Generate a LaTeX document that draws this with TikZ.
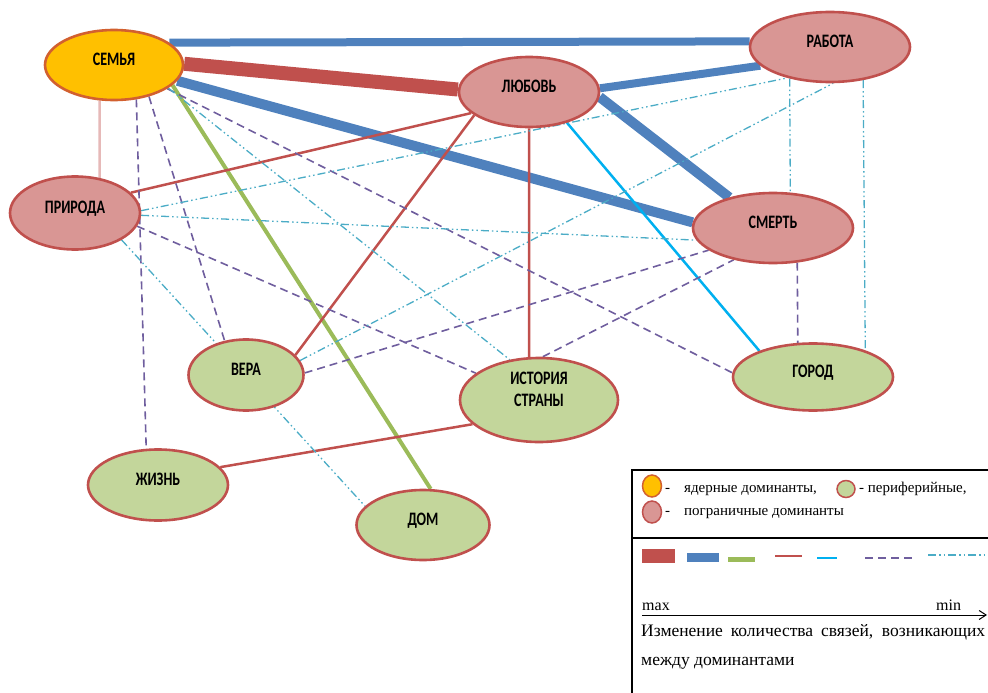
\documentclass[tikz,border=0pt]{standalone}
\usepackage{fontspec}
\setmainfont{Liberation Serif}
\newfontfamily\lblfont[FakeStretch=0.74]{Carlito}
\usetikzlibrary{shapes.geometric,backgrounds,arrows.meta}

\definecolor{edgeRed}{HTML}{C0504D}
\definecolor{coreFill}{HTML}{FFC000}
\definecolor{coreLine}{HTML}{D2602F}
\definecolor{borderFill}{HTML}{D99694}
\definecolor{periFill}{HTML}{C3D69B}
\definecolor{blueLine}{HTML}{4F81BD}
\definecolor{greenLine}{HTML}{9BBB59}
\definecolor{paleLine}{HTML}{E6B9B8}
\definecolor{cyanLine}{HTML}{00B0F0}
\definecolor{purpleLine}{HTML}{6F5E9E}
\definecolor{dashCyan}{HTML}{4BACC6}

\begin{document}
\begin{tikzpicture}
  [x=1pt,y=-1pt,
   baseN/.style={ellipse,line width=2.6pt,draw=edgeRed,inner sep=0pt,
     minimum height=70pt,text depth=12pt,
     font={\fontsize{19}{22}\lblfont\bfseries}},
   coreN/.style={baseN,fill=coreFill,draw=coreLine},
   borderN/.style={baseN,fill=borderFill},
   periN/.style={baseN,fill=periFill},
   redXL/.style={edgeRed,line width=14pt},
   blueL/.style={blueLine,line width=9pt},
   greenL/.style={greenLine,line width=4pt},
   redL/.style={edgeRed,line width=2.5pt},
   paleL/.style={paleLine,line width=2.5pt},
   cyanL/.style={cyanLine,line width=2.5pt},
   purpleD/.style={purpleLine,line width=1.6pt,dash pattern=on 8pt off 5pt},
   cyanD/.style={dashCyan,line width=1.3pt,
     dash pattern=on 8pt off 3pt on 1.5pt off 3pt on 1.5pt off 3pt},
   keyTxt/.style={anchor=base west,inner sep=0pt,font=\fontsize{15}{18}\selectfont},
   noteTxt/.style={anchor=base west,inner sep=0pt,font=\fontsize{17.5}{26}\selectfont}]

  \useasboundingbox (0,0) rectangle (988,693);

  \node[coreN,minimum width=138pt] (semya) at (114,65) {СЕМЬЯ};
  \node[borderN,minimum width=140pt] (lyubov) at (529,92) {ЛЮБОВЬ};
  \node[borderN,minimum width=160pt] (rabota) at (830,47) {РАБОТА};
  \node[borderN,minimum width=130pt,minimum height=73pt] (priroda) at (75,213) {ПРИРОДА};
  \node[borderN,minimum width=160pt] (smert) at (773,228) {СМЕРТЬ};

  \node[periN,minimum width=115pt,minimum height=71pt] (vera) at (246,375) {ВЕРА};
  \node[periN,minimum width=158pt,minimum height=84pt,align=center,text depth=22pt]
    (istoriya) at (539,400) {ИСТОРИЯ\\СТРАНЫ};
  \node[periN,minimum width=160pt,minimum height=67pt] (gorod) at (813,377) {ГОРОД};
  \node[periN,minimum width=140pt,minimum height=71pt] (zhizn) at (158,485) {ЖИЗНЬ};
  \node[periN,minimum width=133pt] (dom) at (423,525) {ДОМ};

  \begin{scope}[on background layer]
    \draw [blueL,line width=8pt] (semya.22) -- (rabota.176);
    \draw [redXL] (semya.1) -- (lyubov.178);
    \draw [blueL,line width=10pt] (semya.346) -- (smert.176);
    \draw [blueL,line width=8pt] (lyubov.3) -- (rabota.195);
    \draw [blueL,line width=10pt] (lyubov.356) -- (smert.145);

    \draw [paleL] (semya.248) -- (priroda.55);
    \draw [greenL] (semya.341) -- (dom.78);
    \draw [redL] (priroda.20) -- (lyubov.200);
    \draw [redL] (vera.22) -- (lyubov.203);
    \draw [redL] (lyubov.270) -- (istoriya.103);
    \draw [redL] (zhizn.16) -- (istoriya.200);
    \draw [cyanL] (lyubov.321) -- (gorod.154);

    \draw [purpleD] (semya.303) -- (zhizn.108);
    \draw [purpleD] (semya.318) -- (vera.122);
    \draw [purpleD] (semya.336) -- (gorod.177);
    \draw [purpleD] (priroda.348) -- (istoriya.157);
    \draw [purpleD] (vera.2) -- (smert.199);
    \draw [purpleD] (istoriya.85) -- (smert.219);
    \draw [purpleD] (smert.305) -- (gorod.114);

    \draw [cyanD] (priroda.358) -- (smert.189);
    \draw [cyanD] (priroda.2) -- (rabota.216);
    \draw [cyanD] (vera.15) -- (rabota.275);
    \draw [cyanD] (semya.337) -- (istoriya.126);
    \draw [cyanD] (priroda.330) -- (dom.162);
    \draw [cyanD] (rabota.218) -- (smert.64);
    \draw [cyanD] (rabota.315) -- (gorod.27);
  \end{scope}

  % legend
  \draw [line width=1.2pt] (632,693) -- (632,470) -- (988,470);
  \draw [line width=1.2pt] (632,538) -- (988,538);

  \node[coreN,minimum width=19pt,minimum height=22pt,line width=1.5pt] (keyCore) at (652,486) {};
  \node[borderN,minimum width=19pt,minimum height=22pt,line width=1.5pt] (keyBorder) at (652,512) {};
  \node[periN,minimum width=18pt,minimum height=16pt,line width=1.5pt] (keyPeri) at (846,489) {};
  \node[keyTxt] (keyCoreTxt) at (665,492) {-\hspace{14pt}ядерные доминанты,};
  \node[keyTxt] (keyPeriTxt) at (859,492) {- периферийные,};
  \node[keyTxt] (keyBorderTxt) at (665,515) {-\hspace{14pt}пограничные доминанты};

  \fill [edgeRed] (642,549) rectangle (675,563);
  \fill [blueLine] (687,553) rectangle (719,562);
  \fill [greenLine] (728,557) rectangle (755,562);
  \draw [redL] (775,556) -- (802,556);
  \draw [cyanL] (817,558) -- (837,558);
  \draw [purpleD] (865,558) -- (913,558);
  \draw [cyanD] (928,555) -- (988,555);

  \node[keyTxt,font=\fontsize{16}{18}\selectfont] (maxTxt) at (642,610) {max};
  \node[keyTxt,font=\fontsize{16}{18}\selectfont] (minTxt) at (936,610) {min};
  \coordinate (axMax) at (642,615);
  \coordinate (axMin) at (987,615);
  \draw [line width=1pt,-{Straight Barb[length=7pt,width=9pt]}] (axMax) -- (axMin);
  \node[noteTxt] (noteA) at (641,636) {\makebox[344pt][s]{Изменение количества связей, возникающих}};
  \node[noteTxt] (noteB) at (641,665) {между доминантами};
\end{tikzpicture}
\end{document}
